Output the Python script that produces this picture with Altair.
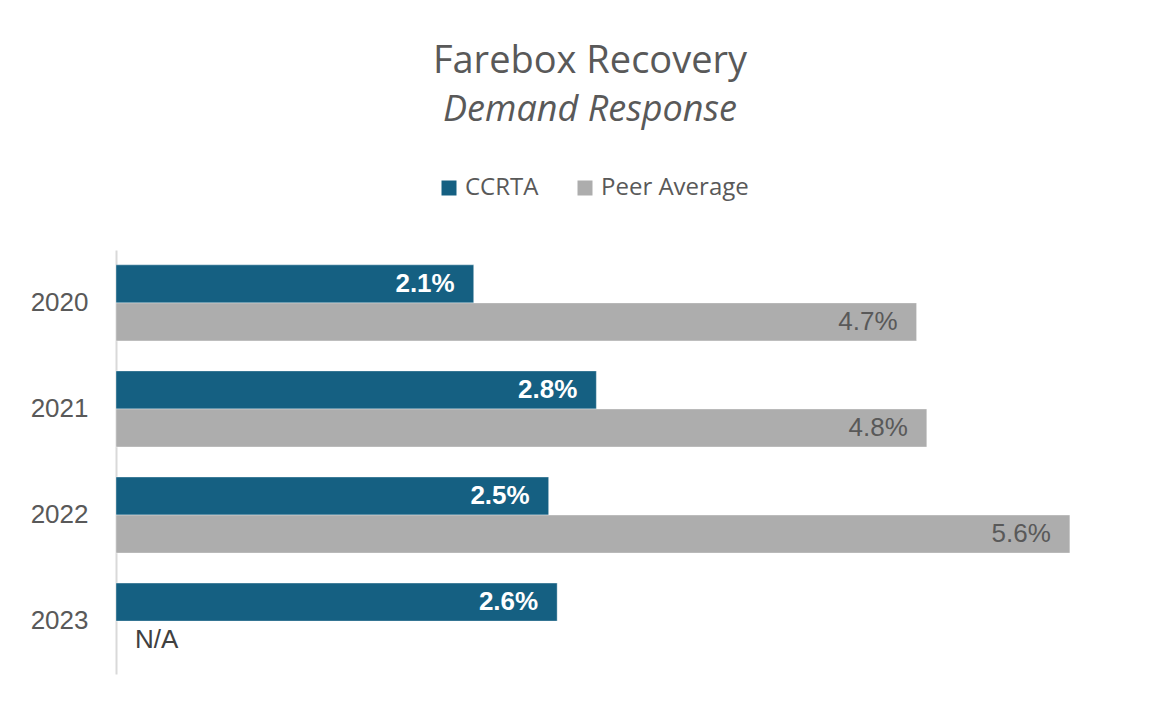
import altair as alt
import pandas as pd

years = ["2020", "2021", "2022", "2023"]
series = ["CCRTA", "Peer Average"]
ccrta = [2.10, 2.82, 2.54, 2.59]
peer = [4.70, 4.76, 5.60, None]
colors = ["#156082", "#ADADAD"]

rows = []
for i, y in enumerate(years):
    rows.append({"year": y, "series": series[0], "value": ccrta[i]})
    rows.append({"year": y, "series": series[1], "value": peer[i]})
df = pd.DataFrame(rows)
df["label"] = [("N/A" if v is None or pd.isna(v) else f"{v:.1f}%") for v in df["value"]]

base = alt.Chart(df).encode(
    y=alt.Y("year:N", sort=years,
            scale=alt.Scale(paddingInner=0.283, paddingOuter=0.14),
            axis=alt.Axis(title=None, ticks=False, labelFontSize=26, labelFont="Liberation Sans",
                          labelColor="#595959", labelPadding=28, domainColor="#D9D9D9",
                          domainWidth=2, grid=False)),
    yOffset=alt.YOffset("series:N", sort=series, scale=alt.Scale(paddingInner=0, paddingOuter=0)),
)

xscale = alt.Scale(domain=[0, 6], nice=False)

bars = base.mark_bar(stroke="#FFFFFF", strokeWidth=0.6, strokeOpacity=0.6).encode(
    x=alt.X("value:Q", scale=xscale, axis=None),
    color=alt.Color("series:N", sort=series,
                    scale=alt.Scale(domain=series, range=colors),
                    legend=alt.Legend(title=None, orient="none", direction="horizontal",
                                      legendX=321, legendY=-74, padding=0, symbolType="square",
                                      symbolSize=225, symbolStrokeWidth=0, labelFontSize=24,
                                      labelFont="Open Sans", labelColor="#595959", labelOffset=4,
                                      columnPadding=34)),
)

lab_c = base.transform_filter(alt.datum.series == "CCRTA").mark_text(
    align="right", baseline="middle", dx=-19, fontSize=26, fontWeight="bold",
    font="Liberation Sans", color="#FFFFFF"
).encode(x=alt.X("value:Q", scale=xscale), text="label:N")

lab_p = base.transform_filter(
    (alt.datum.series == "Peer Average") & (alt.datum.label != "N/A")
).mark_text(
    align="right", baseline="middle", dx=-19, fontSize=26,
    font="Liberation Sans", color="#595959"
).encode(x=alt.X("value:Q", scale=xscale), text="label:N")

lab_na = base.transform_filter(alt.datum.label == "N/A").transform_calculate(
    zero="0"
).mark_text(
    align="left", baseline="middle", dx=19, fontSize=26,
    font="Liberation Sans", color="#404040"
).encode(x=alt.X("zero:Q", scale=xscale), text="label:N")

chart = alt.layer(bars, lab_c, lab_p, lab_na).properties(
    width=1022, height=424,
    autosize=alt.AutoSizeParams(type="none"),
    padding={"left": 108, "top": 242, "right": 19, "bottom": 24},
    title=alt.TitleParams(
        text="Farebox Recovery", subtitle="Demand Response",
        anchor="middle", frame="group", dx=-37, offset=48,
        font="Open Sans", fontSize=38, fontWeight="normal", color="#595959",
        subtitleFont="Open Sans", subtitleFontSize=36, subtitleFontStyle="italic",
        subtitleColor="#595959", subtitlePadding=12,
    ),
).configure_view(stroke=None)

chart.save("out.html", embed_options={"renderer": "svg", "actions": False})
